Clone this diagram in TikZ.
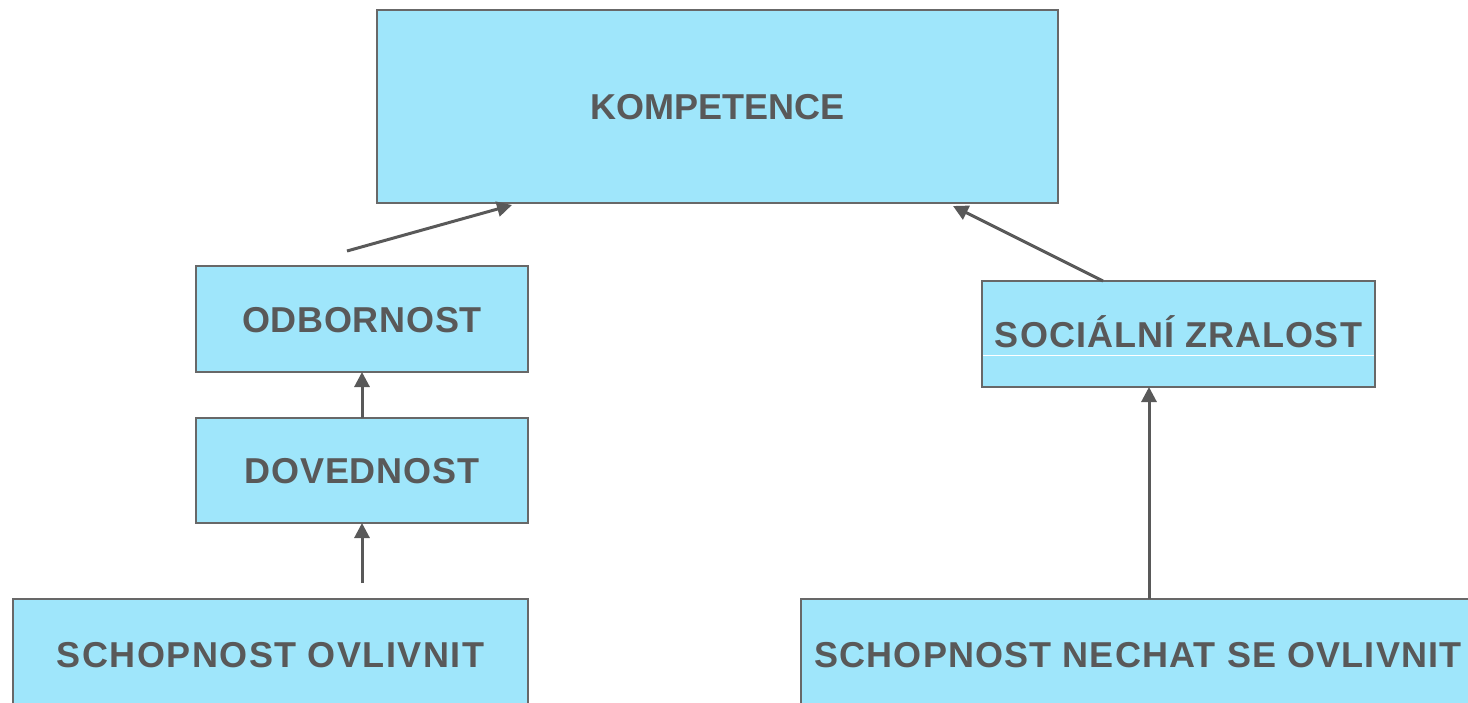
\documentclass[tikz,border=0pt]{standalone}
\usepackage{fontspec}
\setmainfont{Liberation Sans}
\usetikzlibrary{arrows.meta,calc}
\definecolor{boxfill}{HTML}{9FE6FB}
\definecolor{boxline}{HTML}{686868}
\definecolor{txt}{HTML}{595959}
\begin{document}
\begin{tikzpicture}[x=1pt,y=-1pt,
  box/.style={draw=boxline, line width=2pt, fill=boxfill, text=txt,
    font=\fontsize{36}{40}\selectfont\bfseries, text height=26pt, text depth=0pt,
    inner sep=0pt, outer sep=0pt},
  arr/.style={draw=txt, line width=3pt, -{Triangle[length=15pt,width=15pt]}}]
\useasboundingbox (0,0) rectangle (1468,702);
\clip (0,0) rectangle (1468,702);
\node[box, minimum width=681pt, minimum height=193pt] (komp) at (717.5,106.5) {KOMPETENCE};
\node[box, minimum width=332pt, minimum height=106pt] (odb) at (362,319) {\addfontfeature{LetterSpace=2}ODBORNOST};
\node[box, minimum width=332pt, minimum height=105pt] (dov) at (362,470.5) {\addfontfeature{LetterSpace=2.5}DOVEDNOST};
\node[box, minimum width=393pt, minimum height=106pt] (soc) at (1178.5,334) {\addfontfeature{LetterSpace=3}SOCIÁLNÍ ZRALOST};
\node[box, minimum width=515pt, minimum height=110pt] (ovl) at (270.5,654) {\addfontfeature{LetterSpace=4}SCHOPNOST OVLIVNIT};
\node[box, minimum width=674pt, minimum height=110pt] (nech) at (1138,654) {\addfontfeature{LetterSpace=3.2}SCHOPNOST NECHAT SE OVLIVNIT};
\draw[white, line width=1pt] (983,355) -- (1374,355);
\coordinate (s1) at (347,251);
\coordinate (e1) at (512,205);
\coordinate (s2) at (1103,281);
\coordinate (e2) at (953,206);
\coordinate (s4) at (362,583);
\coordinate (s5) at (1149,599);
\draw[arr] (s1) -- (e1);
\draw[arr] (s2) -- (e2);
\draw[arr] (dov.north) -- (odb.south);
\draw[arr] (s4) -- (s4 |- dov.south);
\draw[arr] (s5) -- (s5 |- soc.south);
\end{tikzpicture}
\end{document}
